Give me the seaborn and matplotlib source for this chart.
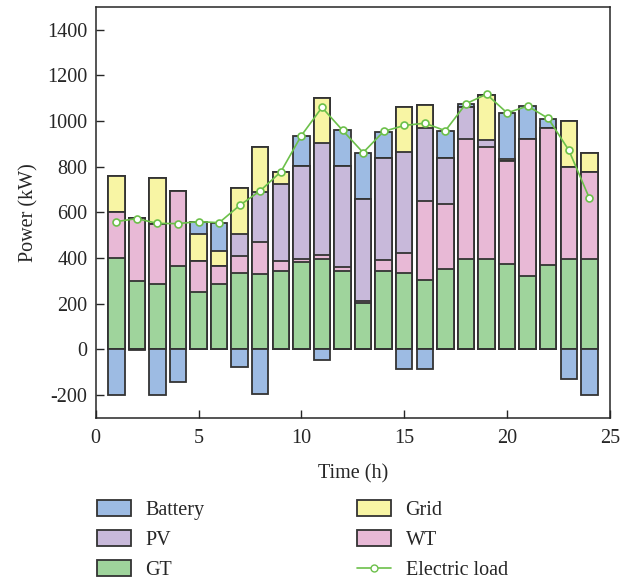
import seaborn as sns
import matplotlib.pyplot as plt
import matplotlib.patches as mpatches
from matplotlib.lines import Line2D
import numpy as np

# Hourly dispatch (kW)
hours = list(range(1, 25))
gt = [400, 300, 285, 365, 252, 285, 336, 330, 343, 382, 395, 345,
      204, 345, 336, 304, 350, 395, 395, 376, 321, 369, 395, 395]
wt = [200, 275, 265, 330, 136, 80, 72, 140, 45, 16, 20, 14,
      6, 47, 86, 346, 288, 528, 492, 448, 602, 601, 403, 381]
pv = [0, 0, 0, 0, 0, 0, 98, 220, 335, 407, 488, 443,
      451, 445, 443, 322, 202, 141, 29, 0, 0, 0, 0, 0]
grid = [160, 0, 200, 0, 117, 68, 199, 195, 55, 0, 200, 0,
        0, 0, 199, 99, 0, 0, 199, 10, 0, 0, 201, 86]
battery = [-200, -4, -200, -145, 55, 122, -78, -195, 0, 132, -45, 158,
           201, 117, -86, -84, 118, 12, 0, 202, 143, 39, -128, -200]
load = [560, 573, 552, 551, 560, 555, 631, 695, 778, 937, 1060, 960,
        862, 955, 981, 991, 958, 1076, 1118, 1036, 1066, 1012, 873, 663]

colors = {"Battery": "#9dbbe3", "PV": "#c8b9da", "GT": "#9fd49c",
          "Grid": "#f8f5a4", "WT": "#e8b9d6"}
line_color = "#6cc04a"
edge = "#333333"

sns.set_style("ticks")
plt.rcParams["font.family"] = ["Liberation Serif", "DejaVu Serif"]
plt.rcParams["font.size"] = 14.5

fig = plt.figure(figsize=(6.34, 5.82), dpi=100)
ax = fig.add_axes([0.151, 0.282, 0.811, 0.706])

bat_pos = np.clip(battery, 0, None)
bat_neg = np.clip(battery, None, 0)
c1 = np.array(gt)
c2 = c1 + np.array(wt)
c3 = c2 + np.array(pv)
c4 = c3 + np.array(grid)
c5 = c4 + bat_pos

# cumulative stacks drawn from the top layer down
layers = [(c5, "Battery"), (c4, "Grid"), (c3, "PV"), (c2, "WT"), (c1, "GT")]
for vals, name in layers:
    sns.barplot(x=hours, y=vals, native_scale=True, color=colors[name],
                saturation=1, edgecolor=edge, linewidth=1.3, width=0.8,
                errorbar=None, ax=ax)
sns.barplot(x=hours, y=bat_neg, native_scale=True, color=colors["Battery"],
            saturation=1, edgecolor=edge, linewidth=1.3, width=0.8,
            errorbar=None, ax=ax)

sns.lineplot(x=hours, y=load, color=line_color, linewidth=1.2, marker="o",
             markersize=5, markerfacecolor="white", markeredgecolor=line_color,
             markeredgewidth=1.2, ax=ax)

ax.set_xlim(0, 25)
ax.set_ylim(-300, 1500)
ax.set_xticks([0, 5, 10, 15, 20, 25])
ax.set_yticks(range(-200, 1401, 200))
ax.set_yticklabels([str(v) for v in range(-200, 1401, 200)])
ax.tick_params(direction="in", length=6, width=1, labelsize=14.5)
ax.tick_params(axis="x", pad=8)
ax.tick_params(axis="y", pad=6)
for s in ax.spines.values():
    s.set_visible(True)
    s.set_linewidth(1.1)
ax.set_xlabel("Time (h)", fontsize=14.5, labelpad=12)
ax.set_ylabel("Power (kW)", fontsize=14.5, labelpad=6)

handles = [mpatches.Patch(facecolor=colors[n], edgecolor=edge, linewidth=1.3, label=n)
           for n in ["Battery", "PV", "GT", "Grid", "WT"]]
handles.append(Line2D([0], [0], color=line_color, linewidth=1.2, marker="o",
                      markersize=5, markerfacecolor="white",
                      markeredgecolor=line_color, label="Electric load"))
fig.legend(handles=handles, ncol=2, loc="upper left", bbox_to_anchor=(0.124, 0.172),
           frameon=False, fontsize=14.5, handlelength=1.7, handleheight=0.85,
           handletextpad=0.7, columnspacing=7.6, labelspacing=0.5)

plt.savefig("out.png", dpi=100)
